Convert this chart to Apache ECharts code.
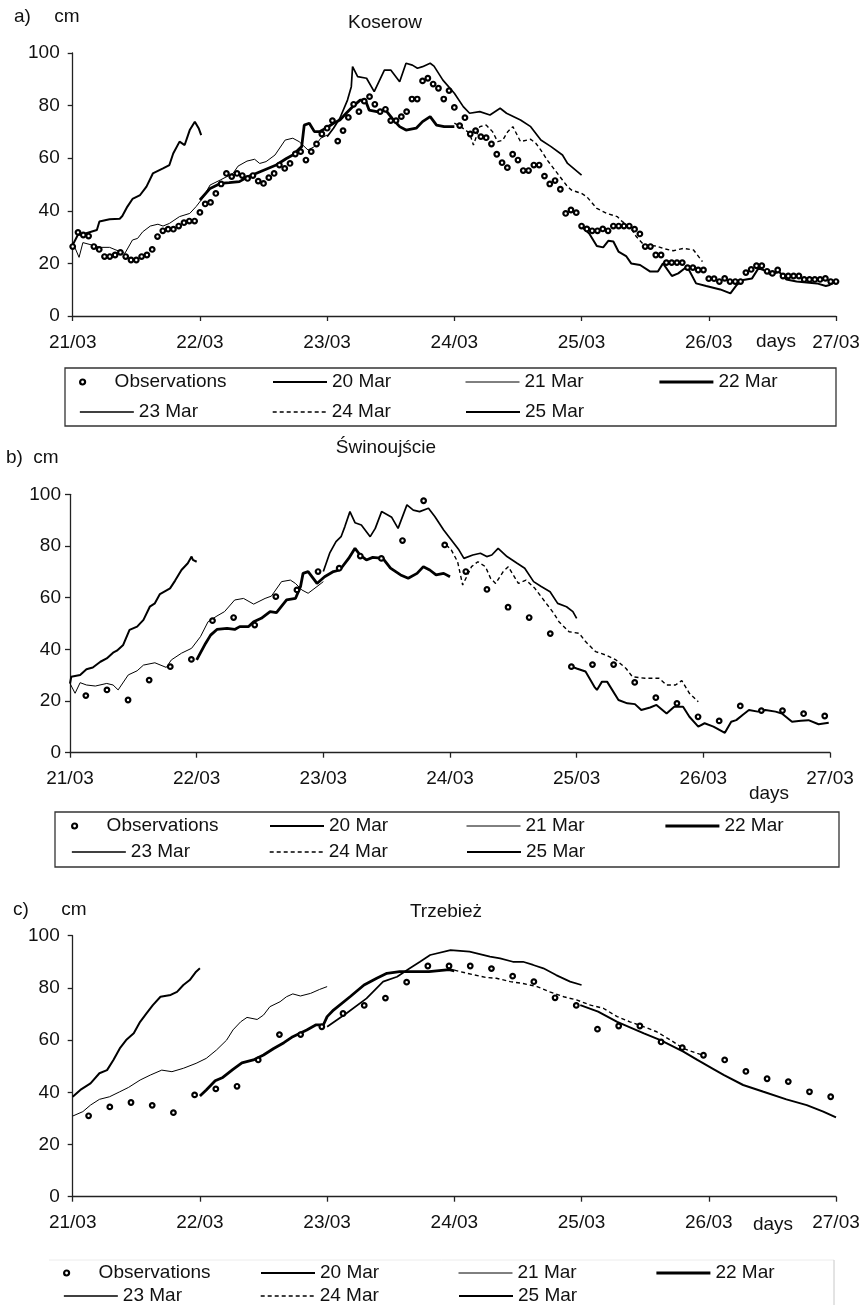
<!DOCTYPE html>
<html><head><meta charset="utf-8">
<script src="https://cdn.jsdelivr.net/npm/echarts@6/dist/echarts.min.js"></script>
<style>html,body{margin:0;padding:0;background:#fff}#c{width:860px;height:1305px}</style>
</head><body><div id="c"></div>
<script>
// ---------- tick labels / names ----------
const dayLabels = ['21/03','22/03','23/03','24/03','25/03','26/03','27/03'];
const legendNames = ['Observations','20 Mar','21 Mar','22 Mar','23 Mar','24 Mar','25 Mar'];
const stationNames = ['Koserow','Świnoujście','Trzebież'];

// ---------- a) Koserow : hourly observations (day = i/24) ----------
const obsA = [26.4,31.8,30.8,30.4,26.4,25.3,22.6,22.6,23.2,24.2,22.6,21.3,21.3,22.6,23.2,25.3,30.2,32.4,33,33,34.2,35.5,36.1,36.1,39.4,
42.6,43.2,46.6,50.2,54.2,53,54.2,53.4,52.3,53.4,51.3,50.4,52.6,54.2,57.4,56.1,58,61.6,62.5,59.3,62.5,65.4,69.2,71.4,
74.3,66.5,70.5,75.5,80.5,77.7,81.7,83.4,80.5,77.7,78.6,74.3,74.3,75.8,77.7,82.5,82.5,89.4,90.4,88.2,86.6,82.5,85.7,79.3,
72.4,75.4,69.2,70.5,68.2,67.8,65.4,61.5,58.3,56.4,61.5,59.3,55.3,55.3,57.4,57.4,53.2,50.2,51.5,48.2,39,40.3,39.3,34.2,
33.1,32.4,32.4,33.1,32.4,34.2,34.2,34.2,34.2,33,31.2,26.4,26.4,23.2,23.2,20.3,20.3,20.3,20.3,18.4,18.4,17.5,17.5,14.2,
14.2,13.1,14.3,13.1,13.1,13.1,16.5,17.7,19.1,19.1,17,16.2,17.5,15.2,15.2,15.2,15.2,13.9,13.9,13.9,13.9,14.3,13.1,13.1];
// forecasts [day since 21/03 00:00, cm]
const a20 = [[0,27],[0.04,30.8],[0.1,31.4],[0.19,32.7],[0.21,35.9],[0.29,36.8],[0.37,37],[0.39,38],[0.43,41.6],[0.47,44.5],[0.53,46],[0.58,49.2],[0.63,54.2],[0.71,56.1],[0.76,57.4],[0.79,61.8],[0.84,66.3],[0.88,65],[0.92,70.7],[0.96,73.9],[0.99,71.4],[1.01,68.8]];
const a21 = [[0,28],[0.05,22.3],[0.08,27.9],[0.15,27],[0.21,26.1],[0.29,26.1],[0.34,25.1],[0.41,23.8],[0.47,28.9],[0.51,29.5],[0.55,32],[0.61,34.2],[0.67,34.9],[0.71,34.2],[0.76,35.2],[0.84,37.8],[0.92,39],[0.97,41.6],[1.02,44.7],[1.08,49.8],[1.16,51.7],[1.26,54.2],[1.3,57],[1.37,58.9],[1.43,59.6],[1.47,58],[1.52,58.7],[1.59,61.2],[1.67,66.9],[1.73,67.6],[1.78,66.3],[1.85,63.1],[1.9,64.4],[1.95,67.6],[2.0,68.8]];
const a22 = [[1.0,44.1],[1.08,48.5],[1.16,50.4],[1.23,50.7],[1.31,51.1],[1.38,53],[1.44,54.2],[1.52,55.8],[1.6,57.4],[1.68,59.9],[1.73,61.2],[1.8,64.4],[1.82,72.6],[1.86,73.3],[1.9,70.1],[1.94,70.1],[1.99,71.4],[2.05,73.3],[2.1,74.5],[2.15,77.1],[2.2,79.6],[2.26,82.1],[2.3,82.1],[2.33,78.3],[2.39,77.7],[2.46,78.3],[2.51,75.2],[2.57,72],[2.62,70.7],[2.7,71.4],[2.75,73.9],[2.81,75.8],[2.86,72.6],[2.92,72],[3.0,72]];
const a23 = [[2.0,68.2],[2.05,71.4],[2.1,75.2],[2.16,82.1],[2.19,87.2],[2.2,94.8],[2.24,91],[2.31,90.4],[2.37,85.3],[2.45,93.5],[2.5,93.5],[2.57,89.1],[2.62,96.1],[2.67,95.4],[2.71,94.2],[2.75,94.8],[2.81,96.1],[2.84,95],[2.91,89.7],[3.0,84.7],[3.07,79.6],[3.12,77.1],[3.2,77.7],[3.28,76.4],[3.36,79],[3.41,77.1],[3.52,74.5],[3.6,72],[3.68,66.9],[3.76,64.4],[3.85,61.2],[3.89,58],[4.0,53.6]];
const a24 = [[3.0,73.3],[3.05,72],[3.12,69.5],[3.15,65],[3.2,72],[3.25,72.6],[3.3,70.1],[3.34,66.3],[3.38,66.8],[3.42,70.1],[3.46,72],[3.52,66.3],[3.6,67.2],[3.64,65.7],[3.68,63.1],[3.73,59.3],[3.79,55.5],[3.85,51.7],[3.89,49.2],[3.92,47.9],[4.0,46.6],[4.04,45.4],[4.12,40.9],[4.2,39],[4.28,37.8],[4.32,35.9],[4.38,34],[4.43,30.2],[4.49,27],[4.59,26.6],[4.64,25.7],[4.72,24.8],[4.8,25.7],[4.88,25.1],[4.95,20.7]];
const a25 = [[4.0,34],[4.06,31.4],[4.12,26.6],[4.17,26.1],[4.21,28.6],[4.25,28.3],[4.29,24.5],[4.35,22.8],[4.39,20],[4.46,19.4],[4.54,16.9],[4.6,16.9],[4.64,20],[4.71,15.2],[4.76,16.2],[4.83,18.8],[4.9,12.4],[4.98,11.4],[5.09,10.1],[5.17,8.6],[5.22,11.8],[5.27,13.7],[5.34,14.3],[5.39,18.1],[5.43,17.5],[5.49,15.6],[5.55,16.9],[5.61,13.9],[5.69,13.1],[5.77,12.7],[5.85,12.4],[5.92,11.4],[5.95,11.8],[6.0,13.1]];

// ---------- b) Swinoujscie : 4-hourly observations (day = 0.125 + k/6) ----------
const obsB = [22.1,24.3,20.4,28.1,33.3,36.1,51.1,52.3,49.4,60.4,63.0,70.1,71.4,76.1,75.2,82.1,97.5,80.4,70.1,63.2,56.3,52.3,46.1,33.3,34.1,34.1,27.2,21.3,19.1,13.9,12.3,18.1,16.3,16.3,15.1,14.2];
const b20 = [[0,26.8],[0.01,29.4],[0.08,30.1],[0.13,32.3],[0.18,33],[0.24,35.2],[0.29,36.5],[0.34,38.7],[0.37,39.5],[0.42,41.7],[0.47,47.5],[0.53,48.8],[0.58,51.4],[0.63,56.5],[0.67,57.8],[0.71,61.4],[0.79,63.6],[0.83,66.6],[0.88,70.7],[0.93,73.3],[0.96,75.9],[0.97,74.6],[1.0,73.9]];
const b21 = [[0,26.8],[0.04,23],[0.08,27.1],[0.13,26.2],[0.2,25.8],[0.29,26.8],[0.34,26.2],[0.38,24.3],[0.46,30.1],[0.53,31.7],[0.58,33.9],[0.67,34.8],[0.76,33],[0.8,35.9],[0.88,38.5],[0.96,40.4],[1.03,44.9],[1.09,50.7],[1.16,52.9],[1.22,54.6],[1.3,59.1],[1.37,59.7],[1.45,57.5],[1.54,59.7],[1.59,60.6],[1.67,66.2],[1.74,66.8],[1.78,65.5],[1.83,63],[1.88,61.7],[1.95,64.3],[2.0,66.2]];
const b22 = [[1.0,35.9],[1.07,42.3],[1.11,45.5],[1.16,47.7],[1.24,48.1],[1.3,47.7],[1.34,48.8],[1.41,48.8],[1.45,50.7],[1.51,52],[1.58,54.6],[1.63,54.2],[1.71,59.1],[1.78,59.7],[1.82,64.3],[1.84,69.4],[1.88,70.1],[1.95,65.5],[2.01,68.1],[2.08,70.1],[2.13,70.7],[2.2,75.2],[2.25,79.1],[2.29,76.5],[2.34,74.6],[2.39,75.6],[2.47,75.2],[2.53,71.4],[2.61,68.8],[2.67,67.5],[2.74,69.4],[2.79,72],[2.84,70.7],[2.89,68.8],[2.95,69.4],[3.0,68.1]];
const b23 = [[2.0,70.1],[2.05,77.2],[2.1,81.7],[2.14,83.6],[2.17,87.5],[2.21,93.3],[2.25,89],[2.3,88.1],[2.37,83.6],[2.41,86.8],[2.46,93.3],[2.54,91.1],[2.59,86.8],[2.66,95.9],[2.71,93.9],[2.76,93.3],[2.83,94.6],[2.88,91.4],[2.95,86.2],[3.0,83],[3.07,78.5],[3.11,75.2],[3.18,76.5],[3.24,77.2],[3.29,75.9],[3.33,76.5],[3.38,79.1],[3.45,75.9],[3.53,73.3],[3.59,71.4],[3.66,66.2],[3.72,64.3],[3.79,62.3],[3.85,57.8],[3.92,56.5],[3.97,54.6],[4.0,52]];
const b24 = [[2.97,80.4],[3.01,78.5],[3.06,73.9],[3.1,64.9],[3.17,72],[3.22,73.9],[3.28,72],[3.32,67.5],[3.36,65.5],[3.42,70.1],[3.46,72],[3.54,65.5],[3.6,66.8],[3.67,63.6],[3.73,59.7],[3.82,53.9],[3.86,50.7],[3.94,46.8],[4.02,46.2],[4.07,43],[4.15,39.1],[4.23,37.8],[4.31,35.9],[4.39,32.6],[4.44,29.4],[4.54,28.8],[4.65,28.8],[4.71,26.2],[4.78,26.2],[4.83,27.9],[4.89,23],[4.96,19.7]];
const b25 = [[3.96,33.3],[4.0,32.6],[4.07,31.4],[4.14,25.5],[4.16,24.3],[4.2,27.5],[4.24,27.5],[4.33,20.4],[4.4,19.1],[4.46,18.8],[4.51,16.5],[4.58,17.5],[4.63,18.5],[4.71,15.2],[4.77,17.8],[4.84,17.8],[4.89,13.9],[4.96,10.1],[5.01,11.4],[5.08,10.1],[5.17,7.7],[5.22,12],[5.26,12.6],[5.31,14.6],[5.36,16.5],[5.43,15.9],[5.49,16.5],[5.57,15.9],[5.62,15.2],[5.7,12],[5.77,12.4],[5.83,12.6],[5.91,11],[5.99,11.6]];

// ---------- c) Trzebiez : 4-hourly observations (day = 0.125 + k/6) ----------
const obsC = [31.0,34.4,36.1,35.0,32.2,39.0,41.3,42.3,52.4,62.1,62.1,65.1,70.2,73.3,76.1,82.2,88.4,88.4,88.4,87.4,84.5,82.4,76.2,73.3,64.2,65.4,65.4,59.3,57.1,54.2,52.4,48.0,45.2,44.1,40.2,38.3];
const c20 = [[0,38.3],[0.06,40.9],[0.14,43.4],[0.21,47.3],[0.27,48.5],[0.32,52.4],[0.37,56.8],[0.42,60],[0.48,62.6],[0.53,67],[0.58,70.2],[0.63,73.4],[0.69,76.6],[0.77,77.3],[0.82,78.5],[0.87,81.1],[0.92,83],[0.97,86.2],[1.0,87.5]];
const c21 = [[0,30.9],[0.08,32.6],[0.14,35.1],[0.21,37.3],[0.29,38.3],[0.37,40.2],[0.44,41.9],[0.53,44.7],[0.61,46.6],[0.7,48.5],[0.78,47.9],[0.87,49.2],[0.97,51.1],[1.05,53],[1.13,56.2],[1.21,60],[1.26,63.9],[1.32,67],[1.37,68.7],[1.45,67.9],[1.5,69.6],[1.55,72.8],[1.63,74.7],[1.68,76.6],[1.73,77.7],[1.79,76.9],[1.87,77.9],[1.94,79.4],[2.0,80.5]];
const c22 = [[1.0,38.6],[1.05,40.9],[1.12,44.4],[1.18,45.7],[1.26,48.8],[1.33,51.3],[1.42,52.4],[1.5,54.3],[1.58,56.8],[1.66,59],[1.73,61.3],[1.84,63.9],[1.91,65.8],[1.97,65.8],[2.0,69],[2.05,71.5],[2.18,76.6],[2.29,81.1],[2.39,83.7],[2.47,85.6],[2.57,86.2],[2.7,86.2],[2.8,86.2],[2.96,87],[3.0,86.5]];
const c23 = [[2.0,65.1],[2.15,70.2],[2.31,76],[2.44,82.4],[2.55,84.3],[2.65,87.5],[2.73,90],[2.81,92.6],[2.97,94.5],[3.12,93.9],[3.28,92],[3.36,91.3],[3.46,90],[3.54,90],[3.62,88.8],[3.7,87.5],[3.8,84.9],[3.91,82.4],[4.0,81.1]];
const c24 = [[3.0,86.8],[3.1,85.6],[3.25,84],[3.33,83.7],[3.44,82.4],[3.54,81.7],[3.65,80.5],[3.75,78.5],[3.86,76.6],[3.96,75.4],[4.07,73.4],[4.17,72.2],[4.28,69],[4.38,67],[4.49,65.1],[4.59,63.2],[4.7,60],[4.8,56.8],[4.91,54.9],[4.95,54.3]];
const c25 = [[3.99,73.4],[4.13,70.9],[4.28,67],[4.49,62.6],[4.62,60],[4.8,55.6],[4.91,52.4],[5.04,48.8],[5.12,46.6],[5.27,42.8],[5.43,40.2],[5.61,37.3],[5.77,35.1],[5.9,32.6],[6.0,30.4]];

// ---------- layout / styles ----------
const FONT = 'Liberation Sans, Arial, sans-serif';
const INK = '#111';
const AX = '#222';
const lineStyles = [
  {width:2,   type:'solid'},   // 20 Mar
  {width:1,   type:'solid'},   // 21 Mar
  {width:2.8, type:'solid'},   // 22 Mar
  {width:1.7, type:'solid'},   // 23 Mar
  {width:1.4, type:[4,3]},     // 24 Mar
  {width:2,   type:'solid'}    // 25 Mar
];
const panels = [
  {grid:{left:72.7, top:53,    width:763.3, height:263},   obs: obsA.map((v,i)=>[i/24, v]),       lines:[a20,a21,a22,a23,a24,a25],
   yMargin:13, cols:[79,272,465,658],  rows:[382,412]},
  {grid:{left:70,   top:494.3, width:760,   height:258.4}, obs: obsB.map((v,k)=>[0.125+k/6, v]),  lines:[b20,b21,b22,b23,b24,b25],
   yMargin:9,  cols:[71,269,466,664],  rows:[826,852]},
  {grid:{left:72.7, top:935.7, width:763.3, height:261},   obs: obsC.map((v,k)=>[0.125+k/6, v]),  lines:[c20,c21,c22,c23,c24,c25],
   yMargin:13, cols:[63,260,458,655],  rows:[1273,1296]}
];

const grids = [], xAxes = [], yAxes = [], series = [], legends = [];
panels.forEach((p, pi) => {
  grids.push(Object.assign({containLabel:false, outerBoundsMode:'none'}, p.grid));
  xAxes.push({
    type:'value', gridIndex:pi, min:0, max:6, interval:1,
    axisLine:{show:true, onZero:false, lineStyle:{color:AX, width:1.3}},
    axisTick:{show:true, length:5, lineStyle:{color:AX, width:1.3}},
    axisLabel:{formatter:v => dayLabels[Math.round(v)], fontFamily:FONT, fontSize:19, color:INK, margin:17, showMaxLabel:true, showMinLabel:true},
    splitLine:{show:false}
  });
  yAxes.push({
    type:'value', gridIndex:pi, min:0, max:100, interval:20,
    axisLine:{show:true, onZero:false, lineStyle:{color:AX, width:1.3}},
    axisTick:{show:true, length:5, lineStyle:{color:AX, width:1.3}},
    axisLabel:{fontFamily:FONT, fontSize:19, color:INK, margin:p.yMargin},
    splitLine:{show:false}
  });
  p.lines.forEach((d, li) => {
    series.push({
      type:'line', name:legendNames[li+1], xAxisIndex:pi, yAxisIndex:pi, data:d,
      showSymbol:false, symbol:'none', silent:true, z:2,
      itemStyle:{color:'#000'},
      lineStyle:{color:'#000', width:lineStyles[li].width, type:lineStyles[li].type}
    });
  });
  series.push({
    type:'scatter', name:legendNames[0], xAxisIndex:pi, yAxisIndex:pi, data:p.obs,
    symbol:'circle', symbolSize:4.6, silent:true, z:5,
    itemStyle:{color:'#fff', borderColor:'#000', borderWidth:2.2, opacity:1}
  });
  const pos = [[0,0],[1,0],[2,0],[3,0],[0,1],[1,1],[2,1]];
  legendNames.forEach((nm, k) => {
    const isObs = k === 0;
    legends.push({
      data:[nm], left:p.cols[pos[k][0]], top:p.rows[pos[k][1]] - 10,
      orient:'horizontal', padding:0, itemGap:0, itemWidth:54, itemHeight:isObs ? 5 : 6,
      selectedMode:false,
      textStyle:{fontFamily:FONT, fontSize:19, color:INK, lineHeight:20},
      lineStyle:{width:'inherit', type:'inherit', color:'#000'},
      itemStyle: isObs ? {borderWidth:2.2, borderColor:'#000', color:'#fff', opacity:1} : {opacity:0, borderWidth:0}
    });
  });
});

function txt(x, y, text, align, size) {
  return {type:'text', x:x, y:y, silent:true,
    style:{text:text, fill:INK, font:(size||19)+'px '+FONT, textAlign:align||'center', textVerticalAlign:'middle'}};
}
const graphics = [
  // panel a
  txt(14, 17, 'a)', 'left'), txt(67, 17, 'cm'), txt(385, 23, stationNames[0]), txt(776, 342, 'days'),
  {type:'rect', silent:true, shape:{x:65, y:368, width:771, height:58}, style:{fill:'none', stroke:'#333', lineWidth:1.3}},
  // panel b
  txt(6, 458, 'b)', 'left'), txt(46, 458, 'cm'), txt(386, 448, stationNames[1]), txt(769, 794, 'days'),
  {type:'rect', silent:true, shape:{x:55, y:812, width:784, height:55}, style:{fill:'none', stroke:'#333', lineWidth:1.3}},
  // panel c
  txt(13, 910, 'c)', 'left'), txt(74, 910, 'cm'), txt(446, 912, stationNames[2]), txt(773, 1225, 'days'),
  {type:'line', silent:true, shape:{x1:49, y1:1260, x2:834, y2:1260}, style:{stroke:'#ececec', lineWidth:1}},
  {type:'line', silent:true, shape:{x1:834, y1:1260, x2:834, y2:1305}, style:{stroke:'#c8c8c8', lineWidth:1}}
];

const chart = echarts.init(document.getElementById('c'), null, {renderer:'canvas', width:860, height:1305});
chart.setOption({
  animation:false,
  backgroundColor:'#fff',
  grid:grids, xAxis:xAxes, yAxis:yAxes, series:series, legend:legends,
  graphic:{elements:graphics}
});
</script></body></html>
